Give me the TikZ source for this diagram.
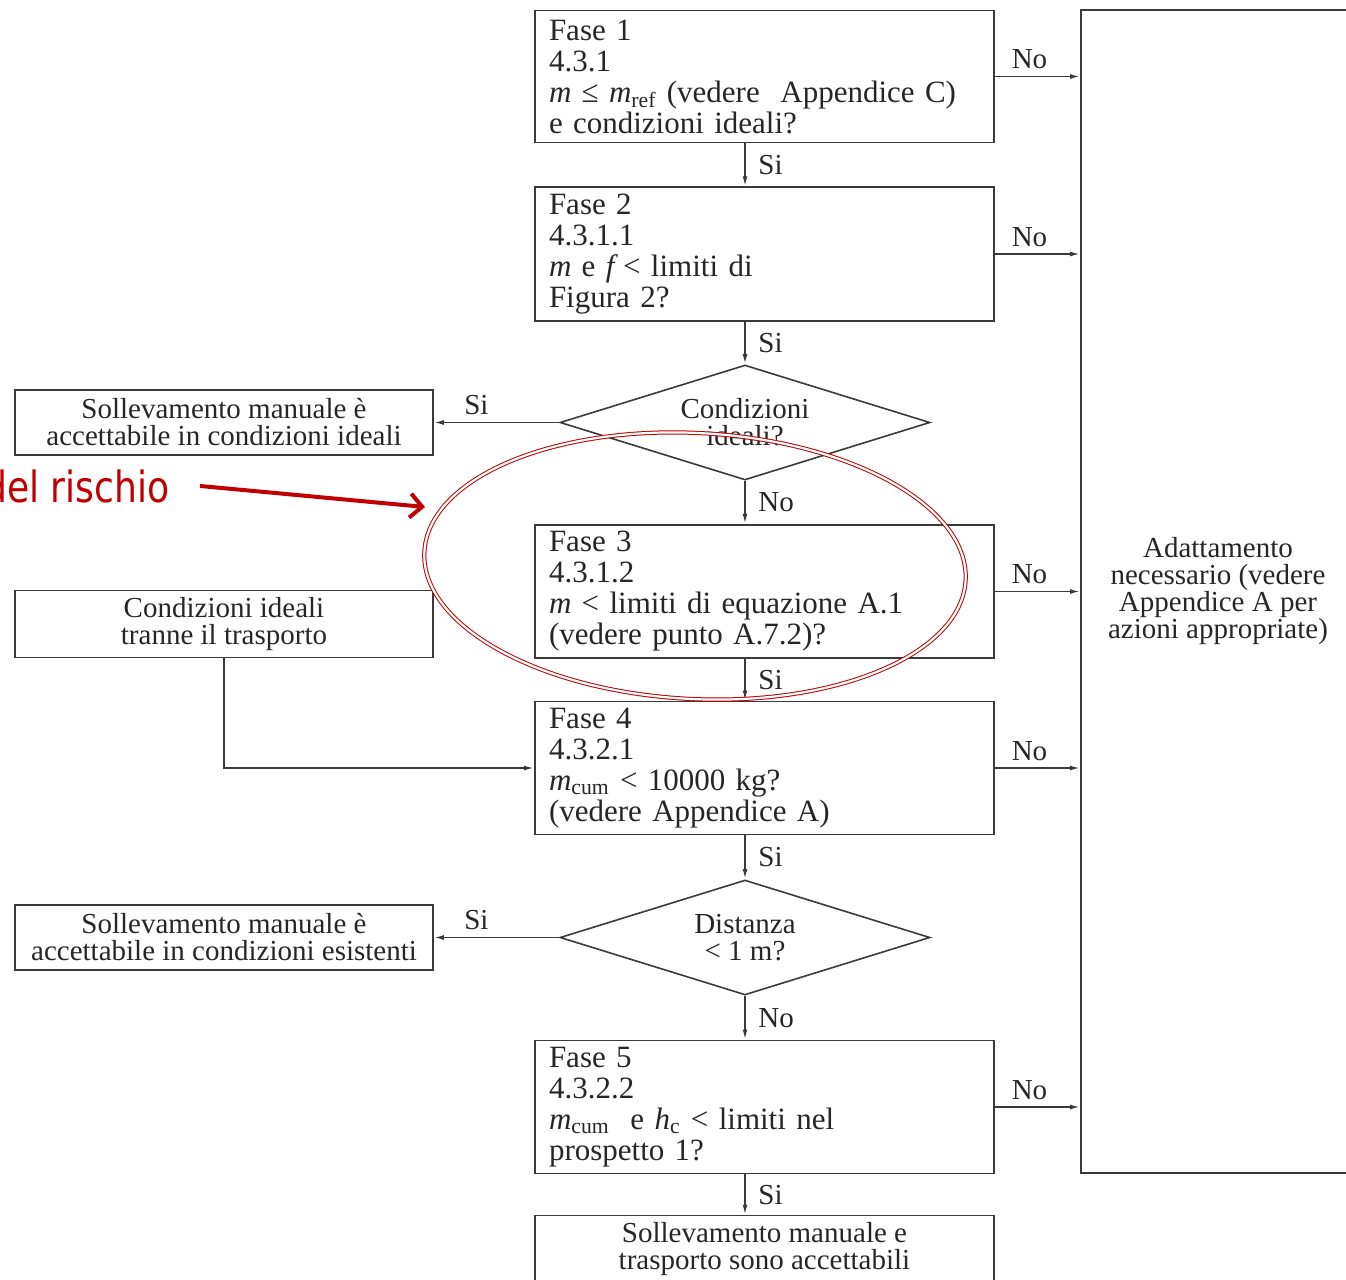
\documentclass[tikz,border=0pt]{standalone}
\usepackage{fontspec}
\setmainfont{Liberation Serif}
\newfontfamily\redfont[FakeStretch=0.84]{DejaVu Sans}
\usepackage{tikz}
\usetikzlibrary{positioning,arrows.meta,calc,shapes.geometric}
\definecolor{linec}{HTML}{3A3A3A}
\definecolor{textc}{HTML}{262626}
\definecolor{redc}{HTML}{C00000}
\begin{document}
\begin{tikzpicture}[x=0.5pt, y=-0.5pt,
  fase/.style={draw=linec, line width=0.8pt, text=textc, minimum height=66pt, text width=215.5pt, inner xsep=7pt, align=left, font=\fontsize{15.5}{15.5}\selectfont},
  esito/.style={draw=linec, line width=0.8pt, text=textc, minimum height=32.5pt, minimum width=209pt, align=center, font=\fontsize{14.5}{13.5}\selectfont},
  scelta/.style={diamond, draw=linec, line width=0.8pt, text=textc, aspect=3.2, inner sep=0pt, minimum width=185pt, minimum height=57.5pt, align=center, font=\fontsize{14.5}{13.5}\selectfont},
  lab/.style={text=textc, font=\fontsize{14.5}{14.5}\selectfont},
  arr/.style={-{Latex[length=5pt, width=2.4pt]}, draw=linec, line width=0.8pt},
  redarr/.style={-{Straight Barb[length=6pt, width=12pt, line width=2pt]}, draw=redc, line width=2pt},
  ring/.style={draw=redc, double=white, double distance=1.1pt, line width=0.5pt}]
\useasboundingbox (0,0) rectangle (1346,1280);
\clip (0,0) rectangle (1346,1280);
% main column
\node[fase] (f1) at (764.5,76.5) {Fase 1\\4.3.1\\\textit{m} ≤ \textit{m}\textsubscript{ref} (vedere\ \ Appendice C)\\e condizioni ideali?};
\node[fase] (f2) at (764.5,254) {Fase 2\\4.3.1.1\\\textit{m} e \textit{f}\,< limiti di\\Figura 2?};
\node[scelta] (d1) at (745,422.5) {Condizioni\\ideali?};
\node[fase] (f3) at (764.5,591.5) {Fase 3\\4.3.1.2\\\textit{m} < limiti di equazione A.1\\(vedere punto A.7.2)?};
\node[fase] (f4) at (764.5,768) {Fase 4\\4.3.2.1\\\textit{m}\textsubscript{cum} < 10000 kg?\\(vedere Appendice A)};
\node[scelta] (d2) at (745,937.5) {Distanza\\< 1 m?};
\node[fase] (f5) at (764.5,1107) {Fase 5\\4.3.2.2\\\textit{m}\textsubscript{cum}\ \ e \textit{h}\textsubscript{c} < limiti nel\\prospetto 1?};
\node[esito, minimum width=229.5pt, minimum height=33pt] (ok) at (764.5,1249) {Sollevamento manuale e\\trasporto sono accettabili};
% side boxes
\node[esito] (c1) at (224,422.5) {Sollevamento manuale è\\accettabile in condizioni ideali};
\node[esito] (c2) at (224,624) {Condizioni ideali\\tranne il trasporto};
\node[esito] (c3) at (224,937.5) {Sollevamento manuale è\\accettabile in condizioni esistenti};
\node[esito, minimum width=137pt, minimum height=581.5pt] (adat) at (1218,591.5) {Adattamento\\necessario (vedere\\Appendice A per\\azioni appropriate)};
% vertical flow
\draw[arr] (d1 |- f1.south) -- node[lab, right=3pt]{Si} (d1 |- f2.north);
\draw[arr] (d1 |- f2.south) -- node[lab, right=3pt]{Si} (d1.north);
\draw[arr] (d1.south) -- node[lab, right=3pt]{No} (d1 |- f3.north);
\draw[arr] (d1 |- f3.south) -- node[lab, right=3pt]{Si} (d1 |- f4.north);
\draw[arr] (d2 |- f4.south) -- node[lab, right=3pt]{Si} (d2.north);
\draw[arr] (d2.south) -- node[lab, right=3pt]{No} (d2 |- f5.north);
\draw[arr] (d2 |- f5.south) -- node[lab, right=3pt]{Si} (d2 |- ok.north);
% side exits
\draw[arr] (d1.west) -- node[lab, above, pos=0.66]{Si} (c1.east);
\draw[arr] (d2.west) -- node[lab, above, pos=0.66]{Si} (c3.east);
\draw[arr] (c2.south) |- (f4.west);
\foreach \f in {f1,f2,f3,f4,f5}
  \draw[arr] (\f.east) -- node[lab, above, xshift=-4pt]{No} (\f.east -| adat.west);
% highlight
\draw[ring] (695,566) ellipse [x radius=271, y radius=133, rotate=-3];
\node[anchor=base east, inner sep=0pt, text=redc, font=\redfont\fontsize{21.5}{21.5}\selectfont] (rischio) at (170,502) {del rischio};
\coordinate (cerchio) at (425,507);
\draw[redarr] ([xshift=15pt]rischio.east) -- (cerchio);
\end{tikzpicture}
\end{document}
